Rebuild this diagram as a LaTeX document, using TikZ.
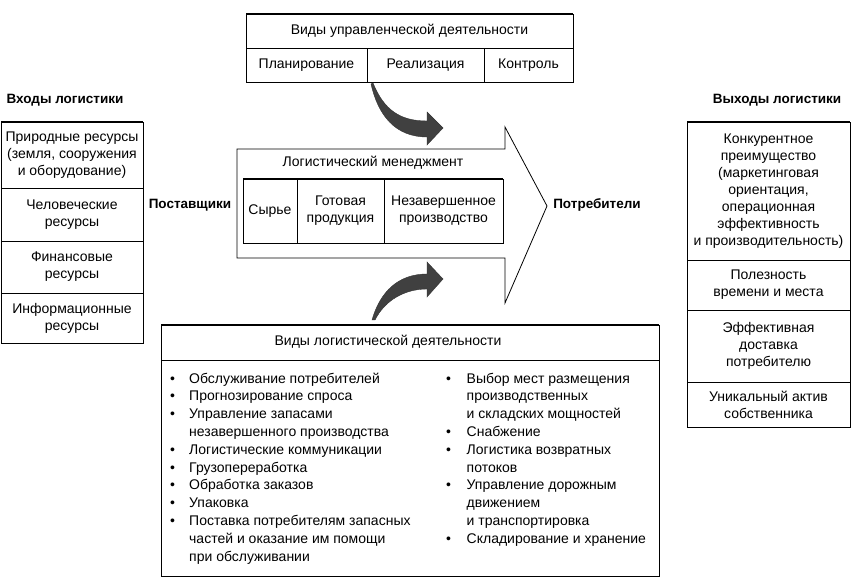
\documentclass[tikz,border=0pt]{standalone}
\usepackage{fontspec}
\setmainfont{Liberation Sans}
\usetikzlibrary{positioning}

\begin{document}
\begin{tikzpicture}[x=1pt, y=-1pt, font=\fontsize{14}{17}\selectfont]
    \tikzstyle{cell} = [rectangle, draw=black, line width=0.8pt, inner sep=0pt, outer sep=0pt, anchor=north west, align=center]
    \tikzstyle{heading} = [font=\fontsize{13.5}{17}\selectfont\bfseries]
    \tikzstyle{topline} = [line width=1.8pt]
    \tikzstyle{bendarrow} = [fill=black!75, draw=black!80, line width=0.4pt]
    \tikzstyle{bulletlist} = [anchor=base west, inner sep=0pt, font=\fontsize{14}{17.8}\selectfont]

    \useasboundingbox (0,0) rectangle (854,585);

    \node (mgmt) [cell, minimum width=327pt, minimum height=34pt] at (246,14) {Виды управленческой деятельности};
    \node (plan) [cell, minimum width=121pt, minimum height=34pt] at (mgmt.south west) {Планирование};
    \node (real) [cell, minimum width=117pt, minimum height=34pt] at (plan.north east) {Реализация};
    \node (ctrl) [cell, minimum width=89pt, minimum height=34pt] at (real.north east) {Контроль};
    \draw [topline] (mgmt.north west) -- (mgmt.north east);

    \node (intitle) [heading] at (65,100) {Входы логистики};
    \node (nat) [cell, minimum width=142pt, minimum height=66pt] at (1,122) {Природные ресурсы\\(земля, сооружения\\и оборудование)};
    \node (hum) [cell, minimum width=142pt, minimum height=53pt] at (nat.south west) {Человеческие\\ресурсы};
    \node (fin) [cell, minimum width=142pt, minimum height=52pt] at (hum.south west) {Финансовые\\ресурсы};
    \node (info) [cell, minimum width=142pt, minimum height=50pt] at (fin.south west) {Информационные\\ресурсы};
    \draw [topline] (nat.north west) -- (nat.north east);

    \draw [line width=0.8pt] (237,149) -- (505,149) -- (505,127) -- (547,206) -- (505,303) -- (505,258) -- (237,258) -- cycle;
    \node (lm) at (373,163) {Логистический менеджмент};
    \node (raw) [cell, minimum width=54pt, minimum height=64pt] at (243,179) {Сырье};
    \node (fg) [cell, minimum width=87pt, minimum height=64pt] at (raw.north east) {Готовая\\продукция};
    \node (wip) [cell, minimum width=119pt, minimum height=64pt] at (fg.north east) {Незавершенное\\производство};
    \draw [line width=1.4pt] (raw.north west) -- (wip.north east);
    \node (supp) [heading] at (190,205) {Поставщики};
    \node (cons) [heading] at (597,205) {Потребители};

    \node (outtitle) [heading] at (777,100) {Выходы логистики};
    \node (comp) [cell, minimum width=163pt, minimum height=138pt] at (687,122) {Конкурентное\\преимущество\\(маркетинговая\\ориентация,\\операционная\\эффективность\\и производительность)};
    \node (util) [cell, minimum width=163pt, minimum height=50pt] at (comp.south west) {Полезность\\времени и места};
    \node (deliv) [cell, minimum width=163pt, minimum height=72pt] at (util.south west) {Эффективная\\доставка\\потребителю};
    \node (asset) [cell, minimum width=163pt, minimum height=45pt] at (deliv.south west) {Уникальный актив\\собственника};
    \draw [topline] (comp.north west) -- (comp.north east);

    \node (lact) [cell, minimum width=498pt, minimum height=35pt] at (161,325) {};
    \node (lbody) [cell, minimum width=498pt, minimum height=216pt] at (lact.south west) {};
    \draw [topline] (lact.north west) -- (lact.north east);
    \node (lacttitle) at (388,342) {Виды логистической деятельности};
    \node (listL) [bulletlist] at (170,383) {\begin{tabular}[t]{@{}p{19pt}@{}l@{}}
        \textbullet & Обслуживание потребителей\\
        \textbullet & Прогнозирование спроса\\
        \textbullet & Управление запасами\\
        & незавершенного производства\\
        \textbullet & Логистические коммуникации\\
        \textbullet & Грузопереработка\\
        \textbullet & Обработка заказов\\
        \textbullet & Упаковка\\
        \textbullet & Поставка потребителям запасных\\
        & частей и оказание им помощи\\
        & при обслуживании
    \end{tabular}};
    \node (listR) [bulletlist] at (446,383) {\begin{tabular}[t]{@{}p{20.5pt}@{}l@{}}
        \textbullet & Выбор мест размещения\\
        & производственных\\
        & и складских мощностей\\
        \textbullet & Снабжение\\
        \textbullet & Логистика возвратных\\
        & потоков\\
        \textbullet & Управление дорожным\\
        & движением\\
        & и транспортировка\\
        \textbullet & Складирование и хранение
    \end{tabular}};

    \filldraw [bendarrow] (373,83) .. controls (384,110) and (400,121) .. (427,121) -- (427,112) -- (443,128) -- (427,145) -- (427,137) .. controls (395,137) and (378,115) .. (371,84) -- cycle;
    \filldraw [bendarrow] (372,320) .. controls (380,292) and (398,274) .. (427,274) -- (427,262) -- (443,279) -- (427,297) -- (427,289) .. controls (405,289) and (385,300) .. (375,320) -- cycle;

\end{tikzpicture}
\end{document}
